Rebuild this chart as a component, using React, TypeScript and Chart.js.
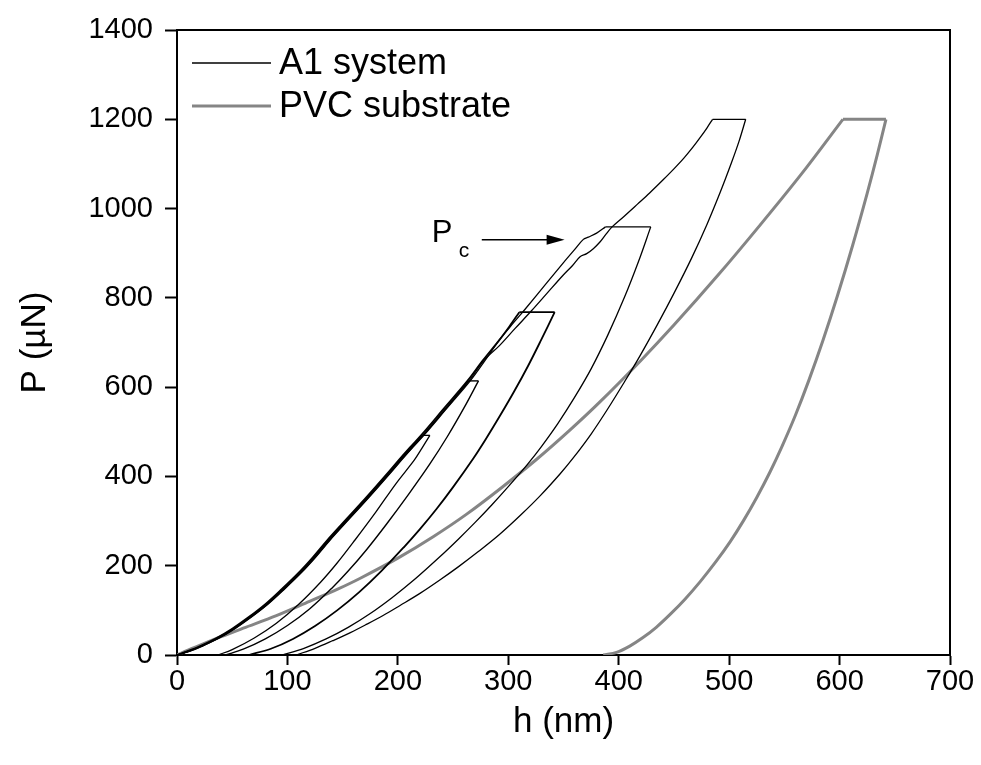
import React, { useEffect, useRef } from 'react';
import { Chart, registerables } from 'chart.js';

Chart.register(...registerables);

const FONT = '"Liberation Sans", Arial, Helvetica, sans-serif';

// ---- Axis ranges / ticks ----
const X_MIN = 0;
const X_MAX = 700;
const X_STEP = 100;
const Y_MIN = 0;
const Y_MAX = 1400;
const Y_STEP = 200;

// ---- A1 system: five load-hold-unload indents (h in nm, P in µN) ----
const c490H = [0, 10, 21, 36, 51, 66, 81, 96, 111, 124, 137, 155, 172, 187, 202, 212, 222, 229, 222, 215, 198, 180, 161, 145, 130, 110, 90, 70, 50, 37];
const c490P = [0, 8, 19, 37, 59, 85, 114, 148, 184, 219, 257, 306, 352, 394, 437, 465, 492, 492, 464, 437, 383, 320, 257, 206, 163, 113, 71, 38, 12, 0];

const c615H = [0, 11, 22, 37, 52, 67, 82, 97, 112, 125, 138, 156, 173, 188, 203, 213, 223, 244, 264, 273, 260, 245, 229, 210, 190, 172, 155, 140, 120, 100, 80, 60, 44];
const c615P = [0, 8, 19, 37, 59, 85, 114, 148, 184, 219, 257, 306, 352, 394, 437, 465, 492, 553, 614, 614, 554, 490, 428, 361, 294, 237, 188, 149, 103, 66, 36, 13, 0];

const c770H = [0, 9, 20, 35, 50, 65, 80, 95, 110, 123, 136, 154, 171, 186, 201, 211, 221, 242, 263, 277, 292, 301, 310, 342, 330, 318, 305, 293, 280, 268, 250, 235, 220, 206, 185, 165, 145, 125, 105, 85, 65];
const c770P = [0, 8, 19, 37, 59, 85, 114, 148, 184, 219, 257, 306, 352, 394, 437, 465, 492, 553, 614, 660, 706, 736, 768, 768, 707, 648, 589, 538, 485, 439, 376, 327, 282, 243, 188, 141, 100, 65, 36, 14, 0];

const c960H = [0, 11, 22, 37.5, 52.5, 67.5, 82.5, 97.5, 112.5, 125.5, 138.5, 156.5, 173.5, 188.5, 203.5, 213.5, 223.5, 244.5, 265.5, 279, 292, 305, 315, 335, 350, 360, 368, 372.5, 380, 388, 429, 418, 405, 390, 375, 360, 345, 330, 317, 301, 285, 270, 255, 238, 215, 195, 175, 155, 135, 115, 95];
const c960P = [0, 8, 19, 37, 59, 85, 114, 148, 184, 219, 257, 306, 352, 394, 437, 465, 492, 553, 614, 660, 706, 745, 774, 834, 879, 908, 931, 936, 945, 959, 959, 882, 800, 716, 641, 577, 519, 467, 426, 380, 336, 297, 260, 220, 169, 129, 93, 62, 36, 15, 0];

const c1200H = [0, 10, 21, 36.5, 51.5, 66.5, 81.5, 96.5, 111.5, 124.5, 137.5, 155.5, 172.5, 187.5, 202.5, 212.5, 222.5, 243.5, 264.5, 278, 292, 306, 321, 335, 349, 358, 365, 371, 377, 383, 388, 394, 405, 417, 428, 440, 450, 459, 467, 474, 480, 485, 515, 509, 502, 492, 480, 466, 450, 435, 419, 405, 390, 375, 359, 347, 329, 311, 292, 272, 255, 238, 220, 202, 187, 172, 157, 141, 125, 108];
const c1200P = [0, 8, 19, 37, 59, 85, 114, 148, 184, 219, 257, 306, 352, 394, 437, 465, 492, 553, 614, 660, 693, 731, 771, 810, 849, 872, 892, 899, 910, 925, 941, 959, 983, 1010, 1035, 1064, 1089, 1113, 1137, 1160, 1181, 1200, 1200, 1151, 1102, 1037, 965, 889, 810, 740, 669, 611, 551, 495, 442, 406, 357, 313, 270, 230, 198, 168, 138, 111, 89, 69, 50, 32, 15, 0];

// ---- PVC substrate ----
const pvcH = [0, 10, 21, 40, 60, 90, 120, 145, 166, 200, 232, 262, 295, 326, 355, 383, 419, 450, 490, 528, 565, 603, 642, 634, 625, 612, 598, 585, 572, 560, 548, 537, 525, 513, 501, 488, 474, 460, 447, 434, 422, 410, 398, 386];
const pvcP = [0, 11, 22, 41, 60, 88, 120, 147, 172, 217, 265, 315, 377, 439, 502, 567, 657, 739, 851, 963, 1076, 1200, 1200, 1119, 1034, 919, 804, 705, 614, 537, 468, 410, 353, 301, 254, 209, 165, 125, 92, 62, 39, 20, 6, 0];

// ---- Labels / annotation ----
const seriesNames = ['A1 system', 'PVC substrate'];
const A1_COLOR = '#000000';
const PVC_COLOR = '#858585';
const arrowFromH = 276;
const arrowToH = 351;
const arrowP = 930;

function pts(h: number[], p: number[]) {
  return h.map((x, i) => ({ x, y: p[i] }));
}

// split one indent into loading / hold / unloading parts (at the max-load points)
function splitCycle(h: number[], p: number[]) {
  const m = Math.max(...p);
  const a = p.indexOf(m);
  const b = p.lastIndexOf(m);
  return [
    pts(h.slice(0, a + 1), p.slice(0, a + 1)),
    pts(h.slice(a, b + 1), p.slice(a, b + 1)),
    pts(h.slice(b), p.slice(b)),
  ];
}

const overlayPlugin = {
  id: 'overlay',
  afterDatasetsDraw(chart: any) {
    const { ctx, chartArea: a, scales } = chart;
    ctx.save();
    // frame top & right
    ctx.strokeStyle = '#000';
    ctx.lineWidth = 2;
    ctx.beginPath();
    ctx.moveTo(a.left, a.top);
    ctx.lineTo(a.right, a.top);
    ctx.lineTo(a.right, a.bottom);
    ctx.stroke();

    // legend
    const items = [
      { label: seriesNames[0], color: A1_COLOR, w: 1.3 },
      { label: seriesNames[1], color: PVC_COLOR, w: 3 },
    ];
    ctx.font = `36px ${FONT}`;
    ctx.textBaseline = 'middle';
    ctx.textAlign = 'left';
    items.forEach((it, i) => {
      const y = a.top + 33 + i * 43;
      ctx.strokeStyle = it.color;
      ctx.lineWidth = it.w;
      ctx.beginPath();
      ctx.moveTo(a.left + 15, y);
      ctx.lineTo(a.left + 94, y);
      ctx.stroke();
      ctx.fillStyle = '#000';
      ctx.fillText(it.label, a.left + 102, y + 1);
    });

    // Pc annotation
    const x0 = scales.x.getPixelForValue(arrowFromH);
    const x1 = scales.x.getPixelForValue(arrowToH);
    const y = scales.y.getPixelForValue(arrowP);
    ctx.strokeStyle = '#000';
    ctx.fillStyle = '#000';
    ctx.lineWidth = 1.5;
    ctx.beginPath();
    ctx.moveTo(x0, y);
    ctx.lineTo(x1 - 14, y);
    ctx.stroke();
    ctx.beginPath();
    ctx.moveTo(x1, y);
    ctx.lineTo(x1 - 18, y - 5);
    ctx.lineTo(x1 - 18, y + 5);
    ctx.closePath();
    ctx.fill();
    ctx.textBaseline = 'alphabetic';
    ctx.font = `31px ${FONT}`;
    ctx.fillText('P', x0 - 50, y + 2);
    ctx.font = `21px ${FONT}`;
    ctx.fillText('c', x0 - 23, y + 17);
    ctx.restore();
  },
};

export default function App() {
  const ref = useRef<HTMLCanvasElement | null>(null);

  useEffect(() => {
    if (!ref.current) return;
    const line = (data: any[], color: string, w: number, label: string, tension: number) => ({
      label,
      data,
      showLine: true,
      borderColor: color,
      backgroundColor: color,
      borderWidth: w,
      pointRadius: 0,
      tension,
      fill: false,
    });
    const cycle = (h: number[], p: number[], color: string, w: number) =>
      splitCycle(h, p).map((seg, i) => line(seg, color, w, '', i === 1 ? 0 : 0.35));

    const datasets = [
      ...cycle(c490H, c490P, A1_COLOR, 1.3),
      ...cycle(c615H, c615P, A1_COLOR, 1.4),
      ...cycle(c770H, c770P, A1_COLOR, 1.8),
      ...cycle(c960H, c960P, A1_COLOR, 1.3),
      ...cycle(c1200H, c1200P, A1_COLOR, 1.3),
      ...cycle(pvcH, pvcP, PVC_COLOR, 3),
    ];

    const chart = new Chart(ref.current, {
      type: 'scatter',
      data: { datasets },
      options: {
        animation: false,
        responsive: true,
        maintainAspectRatio: false,
        layout: { padding: { top: 30, right: 31, left: 0, bottom: 0 } },
        plugins: {
          legend: { display: false },
          tooltip: { enabled: false },
        },
        scales: {
          x: {
            type: 'linear',
            min: X_MIN,
            max: X_MAX,
            ticks: { stepSize: X_STEP, color: '#000', font: { family: FONT, size: 29 }, padding: 0, maxRotation: 0, callback: (v: any) => String(v) },
            grid: { display: true, drawOnChartArea: false, drawTicks: true, tickLength: 10, tickWidth: 2, tickColor: '#000', color: '#000' },
            border: { display: true, color: '#000', width: 2 },
            title: { display: true, text: 'h (nm)', color: '#000', font: { family: FONT, size: 35 }, padding: { top: 6, bottom: 22 } },
            afterFit: (s: any) => { s.height = 110; },
          },
          y: {
            type: 'linear',
            min: Y_MIN,
            max: Y_MAX,
            ticks: { stepSize: Y_STEP, color: '#000', font: { family: FONT, size: 29 }, padding: 12, callback: (v: any) => String(v) },
            grid: { display: true, drawOnChartArea: false, drawTicks: true, tickLength: 12, tickWidth: 2, tickColor: '#000', color: '#000' },
            border: { display: true, color: '#000', width: 2 },
            title: { display: true, text: 'P (µN)', color: '#000', font: { family: FONT, size: 35 }, padding: { top: 14, bottom: 4 } },
            afterFit: (s: any) => { s.width = 177; },
          },
        },
      } as any,
      plugins: [overlayPlugin],
    });
    return () => chart.destroy();
  }, []);

  return (
    <div style={{ position: 'absolute', left: 0, top: 0, width: 981, height: 765, background: '#fff' }}>
      <canvas ref={ref} />
    </div>
  );
}
